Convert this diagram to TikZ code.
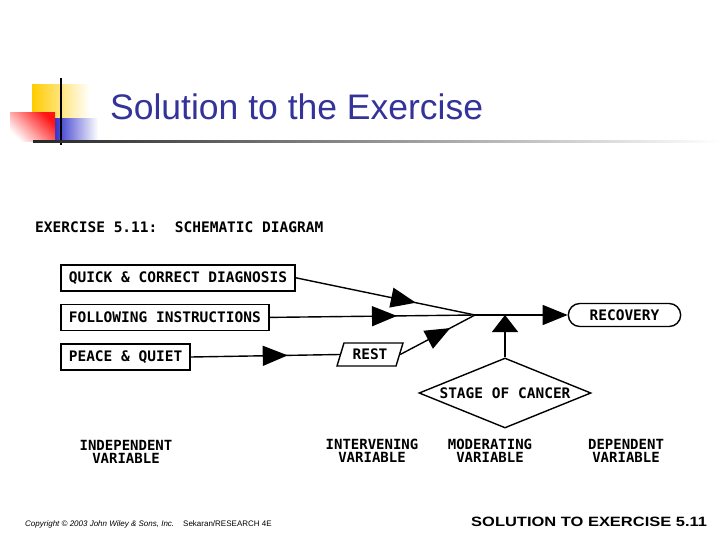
\documentclass[tikz,border=0pt]{standalone}
\usepackage{fontspec}
\setmainfont{Liberation Sans}
\newfontfamily\monofont{DejaVu Sans Mono}
\newfontfamily\footfont[FakeStretch=1.22]{Liberation Sans}
\usepackage{xcolor}
\usetikzlibrary{shapes.geometric, shapes.misc, arrows.meta, positioning, decorations.markings}
\definecolor{titleblue}{RGB}{51,51,153}
\definecolor{decoyellow}{RGB}{255,204,0}
\definecolor{decoblue}{RGB}{51,51,204}
\definecolor{decored}{RGB}{255,20,20}
\tikzset{
  varbox/.style={draw, line width=1.6pt, minimum height=26pt, inner xsep=8pt,
                 font=\fontsize{14.5}{16}\monofont\bfseries},
  restbox/.style={draw, line width=1.4pt, trapezium, trapezium left angle=65,
                  trapezium right angle=115, trapezium stretches body,
                  minimum width=66pt, minimum height=23pt, inner sep=2pt,
                  font=\fontsize{14.5}{16}\monofont\bfseries},
  outbox/.style={draw, line width=1.4pt, rounded rectangle, minimum width=119pt,
                 minimum height=23pt, font=\fontsize{14.5}{16}\monofont\bfseries},
  modbox/.style={draw, line width=1.4pt, diamond, aspect=2.4, inner sep=0pt,
                 minimum width=172pt, minimum height=70pt,
                 font=\fontsize{14.5}{16}\monofont\bfseries},
  varlabel/.style={align=center, inner sep=0pt, font=\fontsize{14}{13.5}\monofont\bfseries},
  link/.style={line width=1.4pt},
  bigtip/.style={-{Triangle[length=25pt,width=20pt]}},
  midarrow/.style={postaction={decorate}, decoration={markings,
                   mark=at position #1 with {\arrow{Triangle[length=25pt,width=20pt]}}}}
}

\begin{document}
\begin{tikzpicture}[x=1pt, y=-1pt]
  \useasboundingbox (0,0) rectangle (720,540);

  % slide decoration
  \shade[left color=decoyellow, middle color=decoyellow, right color=white]
    (32,85) rectangle (90,120);
  \shade[left color=decoblue, middle color=decoblue, right color=white]
    (55,119) rectangle (98,142);
  \shade[left color=white, right color=decored, shading angle=135]
    (10,113) rectangle (55,142);
  \draw[line width=2pt] (61,78) -- (61,145);
  \shade[left color=black!85, right color=white] (33,140.5) rectangle (720,142.5);

  \node[anchor=base west, inner sep=0pt, text=titleblue,
        font=\fontsize{35.5}{38}\selectfont] (title) at (110,120)
    {Solution to the Exercise};

  \node[anchor=west, inner sep=0pt, font=\fontsize{14.5}{16}\monofont\bfseries] (head)
    at (35,227) {EXERCISE 5.11:~~SCHEMATIC DIAGRAM};

  % variables
  \node[varbox, anchor=north west] (quick) at (60,264) {QUICK \& CORRECT DIAGNOSIS};
  \node[varbox, below=12pt of quick.south west, anchor=north west] (follow)
    {FOLLOWING INSTRUCTIONS};
  \node[varbox, below=12pt of follow.south west, anchor=north west] (peace)
    {PEACE \& QUIET};
  \node[restbox] (rest) at (370,354.5) {REST};
  \node[outbox] (recov) at (624.5,315) {RECOVERY};
  \node[modbox] (stage) at (505,393) {STAGE OF CANCER};
  \coordinate (jn) at (475,315);
  \coordinate (mj) at (505,315);

  \draw[link, midarrow=0.67] (quick.east) -- (jn);
  \draw[link, midarrow=0.62] (follow.east) -- (jn);
  \draw[link, midarrow=0.65] (peace.east) -- (rest.west);
  \draw[link, midarrow=0.67] (rest.east) -- (jn);
  \draw[link, bigtip] (jn) -- (recov.west);
  \draw[link, -{Triangle[length=17pt,width=26pt]}] (stage.north) -- (mj);

  % kinds of variable
  \node[varlabel] (indep) at (126,452) {INDEPENDENT\\VARIABLE};
  \node[varlabel] (inter) at (372,451) {INTERVENING\\VARIABLE};
  \node[varlabel] (moder) at (490,451) {MODERATING\\VARIABLE};
  \node[varlabel] (depen) at (626,451) {DEPENDENT\\VARIABLE};

  % footer
  \node[anchor=west, inner sep=0pt, font=\fontsize{8}{9}\selectfont] (copy) at (25,524)
    {\textit{Copyright © 2003 John Wiley \& Sons, Inc.}\hspace{9pt}Sekaran/RESEARCH 4E};
  \node[anchor=west, inner sep=0pt, font=\fontsize{13.5}{15}\footfont\bfseries] (foot)
    at (471,522) {SOLUTION TO EXERCISE 5.11};
\end{tikzpicture}
\end{document}
